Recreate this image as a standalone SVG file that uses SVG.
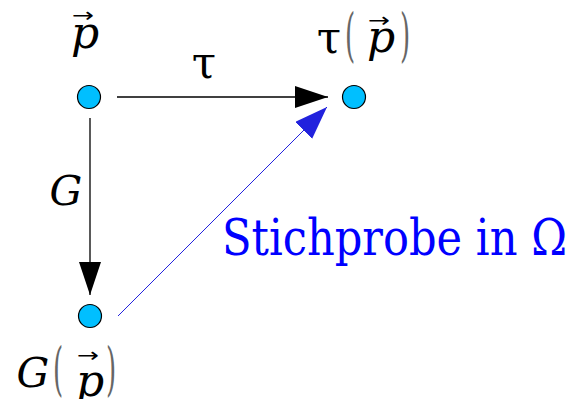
<svg xmlns="http://www.w3.org/2000/svg" width="567" height="399" viewBox="0 0 567 399">
<style>
.node{fill:#00BFFF;stroke:#000;stroke-width:1.2}
.lbl{font-family:"DejaVu Serif",serif;fill:#000}
.it{font-style:italic}
.vec{font-family:"DejaVu Sans",sans-serif;font-size:20px;fill:#000}
.par{font-family:"DejaVu Serif",serif;font-size:58px;fill:#666}
.edge{stroke:#000;stroke-width:1.3;fill:none}
.blue{stroke:#2222dd;stroke-width:1;fill:none}
</style>
<defs>
<marker id="ah" markerUnits="userSpaceOnUse" markerWidth="34" markerHeight="24" refX="33" refY="11" orient="auto"><path d="M0,0 L33,11 L0,22 z" fill="#000"/></marker>
<marker id="ahb" markerUnits="userSpaceOnUse" markerWidth="34" markerHeight="26" refX="33" refY="12" orient="auto"><path d="M0,0 L33,12 L0,24 z" fill="#2222dd"/></marker>
</defs>
<rect width="567" height="399" fill="#fff"/>
<g id="connectors">
<line class="edge" x1="117" y1="97" x2="328" y2="97" marker-end="url(#ah)"/>
<line class="edge" x1="90" y1="118" x2="90" y2="295" marker-end="url(#ah)"/>
<line class="blue" x1="118" y1="316" x2="327" y2="107" marker-end="url(#ahb)"/>
<text class="lbl" x="204" y="78" font-size="44" text-anchor="middle">τ</text>
<text class="lbl it" x="66" y="205" font-size="41" text-anchor="middle">G</text>
<text class="lbl" x="222" y="255" font-size="51" textLength="345" lengthAdjust="spacingAndGlyphs" style="fill:#0000ff">Stichprobe in Ω</text>
</g>
<g id="node-p">
<circle class="node" cx="89" cy="97" r="11.5"/>
<text class="lbl it" x="85" y="48" font-size="44" text-anchor="middle">p</text>
<text class="vec" x="72" y="22" textLength="22" lengthAdjust="spacingAndGlyphs">→</text>
</g>
<g id="node-tau-p">
<circle class="node" cx="354" cy="97" r="11.5"/>
<text class="lbl" x="329" y="53" font-size="44" text-anchor="middle">τ</text>
<text class="par" transform="translate(350,55) scale(0.45,1)" text-anchor="middle">(</text>
<text class="lbl it" x="381" y="52" font-size="44" text-anchor="middle">p</text>
<text class="vec" x="368" y="27" textLength="22" lengthAdjust="spacingAndGlyphs">→</text>
<text class="par" transform="translate(405,55) scale(0.45,1)" text-anchor="middle">)</text>
</g>
<g id="node-G-p">
<circle class="node" cx="90" cy="316" r="11.5"/>
<text class="lbl it" x="33" y="387" font-size="41" text-anchor="middle">G</text>
<text class="par" transform="translate(58,389) scale(0.45,1)" text-anchor="middle">(</text>
<text class="lbl it" x="90" y="396" font-size="44" text-anchor="middle">p</text>
<text class="vec" x="77" y="362" textLength="22" lengthAdjust="spacingAndGlyphs">→</text>
<text class="par" transform="translate(111,389) scale(0.45,1)" text-anchor="middle">)</text>
</g>
</svg>
